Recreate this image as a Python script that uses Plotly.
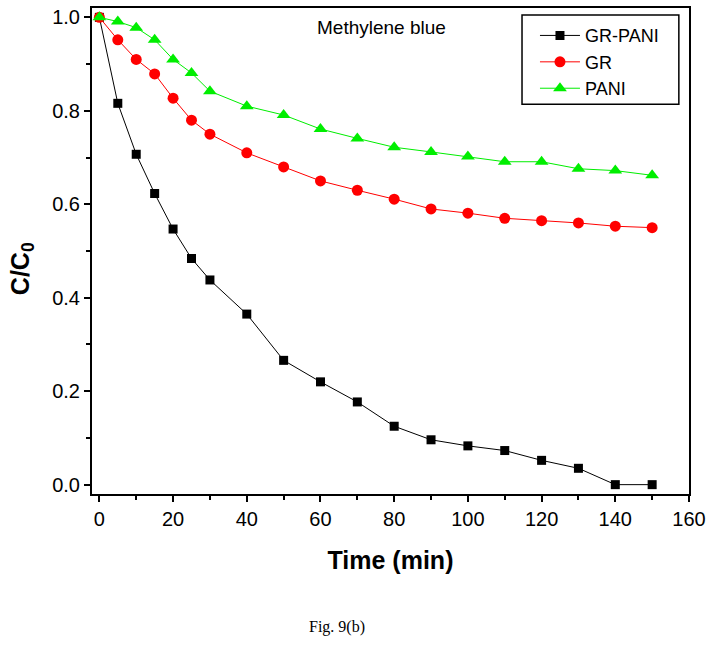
import plotly.graph_objects as go

time_min = [0, 5, 10, 15, 20, 25, 30, 40, 50, 60, 70, 80, 90, 100, 110, 120, 130, 140, 150]
gr_pani = [1.0, 0.816, 0.707, 0.623, 0.547, 0.484, 0.438, 0.365, 0.266, 0.220, 0.177, 0.125, 0.096,
           0.083, 0.073, 0.052, 0.035, 0.0, 0.0]
gr = [1.0, 0.952, 0.910, 0.879, 0.827, 0.780, 0.750, 0.710, 0.680, 0.650, 0.630, 0.611, 0.590,
      0.581, 0.570, 0.565, 0.560, 0.553, 0.550]
pani = [1.0, 0.991, 0.978, 0.952, 0.910, 0.881, 0.842, 0.810, 0.791, 0.761, 0.741, 0.722, 0.712,
        0.702, 0.691, 0.691, 0.676, 0.672, 0.662]

series_names = ["GR-PANI", "GR", "PANI"]
x_ticks = [0, 20, 40, 60, 80, 100, 120, 140, 160]
y_ticks = [0.0, 0.2, 0.4, 0.6, 0.8, 1.0]

FONT = "Liberation Sans, Arial"

fig = go.Figure()
fig.add_trace(go.Scatter(x=time_min, y=gr_pani, name=series_names[0], mode="lines+markers",
                         line=dict(color="black", width=1),
                         marker=dict(symbol="square", size=9, color="black")))
fig.add_trace(go.Scatter(x=time_min, y=gr, name=series_names[1], mode="lines+markers",
                         line=dict(color="#ff0000", width=1),
                         marker=dict(symbol="circle", size=11, color="#ff0000")))
fig.add_trace(go.Scatter(x=time_min, y=pani, name=series_names[2], mode="lines+markers",
                         line=dict(color="#00ee00", width=1),
                         marker=dict(symbol="triangle-up", size=12, color="#00ee00")))

axis_common = dict(showline=True, linecolor="black", linewidth=2, mirror=True,
                   ticks="outside", ticklen=6, tickwidth=2, tickcolor="black",
                   showgrid=False, zeroline=False, automargin=False,
                   tickfont=dict(family=FONT, size=20, color="black"))

fig.update_xaxes(range=[-2, 160], tickvals=x_ticks,
                 minor=dict(dtick=10, ticks="outside", ticklen=4, tickwidth=2, tickcolor="black"),
                 title=dict(text="<b>Time (min)</b>", font=dict(family=FONT, size=25, color="black"),
                            standoff=22),
                 **axis_common)
fig.update_yaxes(range=[-0.02, 1.02], tickvals=y_ticks, tickformat=".1f",
                 minor=dict(dtick=0.1, ticks="outside", ticklen=4, tickwidth=2, tickcolor="black"),
                 **axis_common)

# y-axis title (sits slightly below the axis middle in the reference)
fig.add_annotation(text="<b>C/C<sub>0</sub></b>", xref="paper", yref="paper", x=-0.117, y=0.463,
                   xanchor="center", yanchor="middle", showarrow=False, textangle=-90,
                   font=dict(family=FONT, size=25, color="black"))
fig.add_annotation(text="Methylene blue", xref="paper", yref="paper", x=0.485, y=0.959,
                   xanchor="center", yanchor="middle", showarrow=False,
                   font=dict(family=FONT, size=19, color="black"))
fig.add_annotation(text="Fig. 9(b)", xref="paper", yref="paper", x=0.41, y=-0.274,
                   xanchor="center", yanchor="middle", showarrow=False,
                   font=dict(family="Liberation Serif, Times New Roman", size=16, color="black"))

# legend frame
fig.add_shape(type="rect", xref="paper", yref="paper", x0=0.7203, x1=0.983, y0=0.802, y1=0.9856,
              line=dict(color="black", width=1.5), fillcolor="rgba(0,0,0,0)")

fig.update_layout(
    width=714, height=655,
    margin=dict(l=92, r=25, t=8, b=161),
    plot_bgcolor="white", paper_bgcolor="white",
    showlegend=True,
    legend=dict(x=0.742, y=0.981, xanchor="left", yanchor="top",
                borderwidth=0, bgcolor="rgba(0,0,0,0)",
                font=dict(family=FONT, size=18, color="black"),
                itemwidth=40, tracegroupgap=0),
)

# remove the browser's default body margin so the figure fills the window exactly
fig.write_html("out.html", config={"displayModeBar": False},
               post_script="document.body.style.margin='0px';")
